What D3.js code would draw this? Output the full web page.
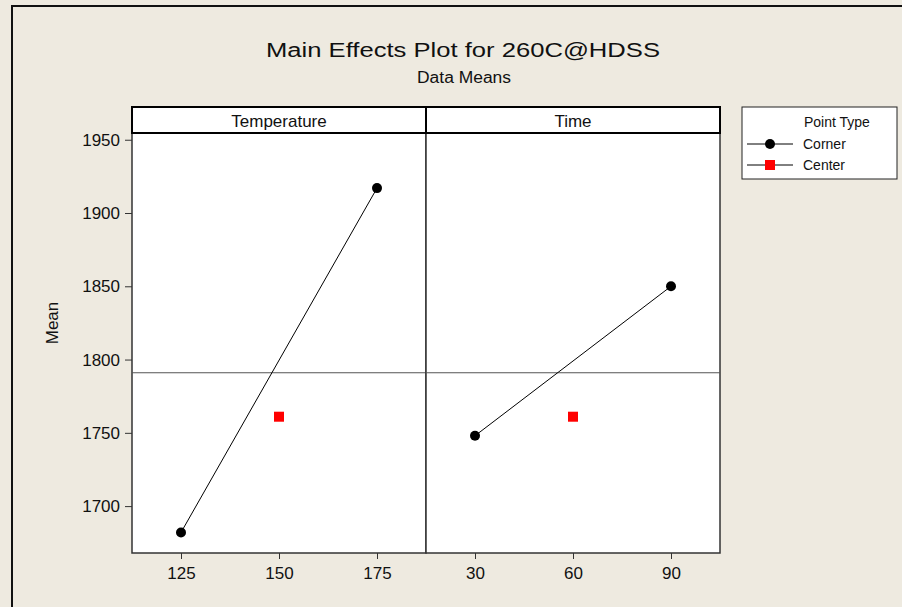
<!DOCTYPE html>
<html>
<head>
<meta charset="utf-8">
<script src="https://cdn.jsdelivr.net/npm/d3@7"></script>
<style>
  html, body { margin: 0; padding: 0; background: #eeeae0; }
  svg text { font-family: "Liberation Sans", Arial, sans-serif; fill: #111; }
</style>
</head>
<body>
<svg id="chart" width="902" height="607"></svg>
<script>
// factor panels
const factors = ['Temperature', 'Time'];
const levels = [[125, 150, 175], [30, 60, 90]];
const domains = [[112.5, 187.5], [15, 105]];
// corner means (low, high) and center mean per factor
const cornerX = [[125, 175], [30, 90]];
const cornerMean = [[1682, 1917], [1748, 1850]];
const centerX = [150, 60];
const centerMean = [1761, 1761];
const overallMean = 1791;
const yTicks = [1700, 1750, 1800, 1850, 1900, 1950];

const svg = d3.select('#chart');
const left = 132, panelW = 294, stripTop = 107, stripBot = 133, bottom = 553;
const font = '"Liberation Sans", Arial, sans-serif';

// outer frame (top + left only)
svg.append('path')
  .attr('d', 'M12,607 L12,6 L902,6')
  .attr('fill', 'none').attr('stroke', '#111').attr('stroke-width', 2);

svg.append('text').attr('x', 463).attr('y', 57)
  .attr('text-anchor', 'middle').attr('font-size', 20)
  .attr('textLength', 394).attr('lengthAdjust', 'spacingAndGlyphs')
  .text('Main Effects Plot for 260C@HDSS');
svg.append('text').attr('x', 464).attr('y', 83)
  .attr('text-anchor', 'middle').attr('font-size', 16)
  .attr('textLength', 94).attr('lengthAdjust', 'spacingAndGlyphs')
  .text('Data Means');

const y = d3.scaleLinear().domain([1668, 1954.6]).range([bottom, stripBot]);

// y axis
const yAxis = svg.append('g').attr('transform', `translate(${left},0)`)
  .call(d3.axisLeft(y).tickValues(yTicks).tickFormat(d3.format('d')).tickSize(7).tickPadding(5));
yAxis.select('.domain').remove();
yAxis.selectAll('line').attr('stroke', '#333');
yAxis.selectAll('text').attr('font-size', 17).attr('fill', '#111').style('font-family', font);

svg.append('text')
  .attr('transform', 'translate(58,323) rotate(-90)')
  .attr('text-anchor', 'middle').attr('font-size', 17).text('Mean');

factors.forEach((f, i) => {
  const x0 = left + i * panelW;
  const x = d3.scaleLinear().domain(domains[i]).range([x0, x0 + panelW]);
  const g = svg.append('g');

  // panel background
  g.append('rect').attr('x', x0).attr('y', stripBot)
    .attr('width', panelW).attr('height', bottom - stripBot)
    .attr('fill', '#fff').attr('stroke', '#333').attr('stroke-width', 1.5);

  // strip
  g.append('rect').attr('x', x0).attr('y', stripTop)
    .attr('width', panelW).attr('height', stripBot - stripTop)
    .attr('fill', '#fff').attr('stroke', '#000').attr('stroke-width', 2);
  g.append('text').attr('x', x0 + panelW / 2).attr('y', stripBot - 6)
    .attr('text-anchor', 'middle').attr('font-size', 17).text(f);

  // reference line at overall mean
  g.append('line').attr('x1', x0).attr('x2', x0 + panelW)
    .attr('y1', y(overallMean)).attr('y2', y(overallMean))
    .attr('stroke', '#555').attr('stroke-width', 1.2);

  // x axis
  const xa = g.append('g').attr('transform', `translate(0,${bottom})`)
    .call(d3.axisBottom(x).tickValues(levels[i]).tickSize(6).tickPadding(8));
  xa.select('.domain').remove();
  xa.selectAll('line').attr('stroke', '#333');
  xa.selectAll('text').attr('font-size', 17).attr('fill', '#111').style('font-family', font);

  // corner line + points
  const pts = cornerX[i].map((v, j) => [v, cornerMean[i][j]]);
  g.append('path').datum(pts)
    .attr('d', d3.line().x(d => x(d[0])).y(d => y(d[1])))
    .attr('fill', 'none').attr('stroke', '#000').attr('stroke-width', 1);
  g.selectAll('circle.corner').data(pts).enter().append('circle')
    .attr('class', 'corner')
    .attr('cx', d => x(d[0])).attr('cy', d => y(d[1])).attr('r', 5)
    .attr('fill', '#000');

  // center point
  g.append('rect')
    .attr('x', x(centerX[i]) - 5).attr('y', y(centerMean[i]) - 5)
    .attr('width', 10).attr('height', 10).attr('fill', '#ff0000');
});

// legend
const lg = svg.append('g');
lg.append('rect').attr('x', 742).attr('y', 107).attr('width', 155).attr('height', 72)
  .attr('fill', '#fff').attr('stroke', '#222').attr('stroke-width', 1);
lg.append('text').attr('x', 804).attr('y', 127).attr('font-size', 14).text('Point Type');
const legendItems = ['Corner', 'Center'];
legendItems.forEach((name, j) => {
  const cy = 144 + j * 21;
  lg.append('line').attr('x1', 747).attr('x2', 793).attr('y1', cy).attr('y2', cy)
    .attr('stroke', '#000').attr('stroke-width', 1);
  if (j === 0) {
    lg.append('circle').attr('cx', 770).attr('cy', cy).attr('r', 5).attr('fill', '#000');
  } else {
    lg.append('rect').attr('x', 765).attr('y', cy - 5).attr('width', 10).attr('height', 10)
      .attr('fill', '#ff0000');
  }
  lg.append('text').attr('x', 803).attr('y', cy + 5).attr('font-size', 14).text(name);
});
</script>
</body>
</html>
